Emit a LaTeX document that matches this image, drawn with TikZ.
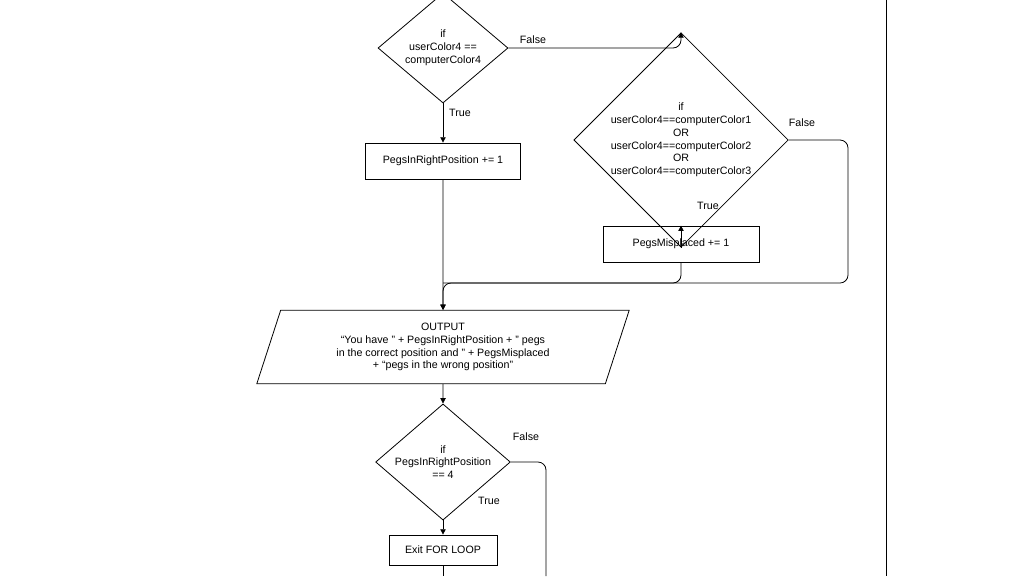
\documentclass[tikz,border=0pt]{standalone}
\usepackage{fontspec}
\setmainfont{Liberation Sans}
\usetikzlibrary{shapes.geometric,arrows.meta}
\tikzset{every node/.style={font=\fontsize{8}{9.6}\selectfont,align=center,inner sep=0pt}}
\tikzset{dec/.style={diamond,draw,aspect=1}}
\tikzset{proc/.style={rectangle,draw}}
\tikzset{lab/.style={}}
\tikzset{flow/.style={-{Triangle[length=4pt,width=4pt]},rounded corners=6pt}}

\begin{document}
\begin{tikzpicture}[x=0.75pt,y=-0.75pt,line width=0.6pt]
      \useasboundingbox (0,0) rectangle (1024,576);
      \node[dec,minimum width=97.5pt,minimum height=82.5pt,aspect=1.18] (D1) at (443,48) {if\\userColor4 ==\\computerColor4};
      \node[dec,minimum width=97.5pt,minimum height=97.5pt] (D2) at (681,140) {if\\userColor4==computerColor1\\OR\\userColor4==computerColor2\\OR\\userColor4==computerColor3};
      \node[proc,minimum width=116pt,minimum height=27pt] (P1) at (443,161) {PegsInRightPosition += 1};
      \node[proc,minimum width=117pt,minimum height=27pt] (P2) at (681,244) {PegsMisplaced += 1};
      \node[trapezium,trapezium left angle=72,trapezium right angle=108,draw,minimum width=188pt,minimum height=55pt] (O) at (443,347) {OUTPUT\\``You have '' + PegsInRightPosition + '' pegs\\in the correct position and '' + PegsMisplaced\\+ ``pegs in the wrong position''};
      \node[dec,minimum width=87pt,minimum height=75pt,aspect=1.16] (D3) at (443,462) {if\\PegsInRightPosition\\== 4};
      \node[proc,minimum width=81pt,minimum height=22.5pt] (E) at (443,550) {Exit FOR LOOP};
      \coordinate (j) at (443,283);
      \coordinate (f2) at (848,140);
      \coordinate (e3) at (546,576);
      \coordinate (ee) at (443,576);
      \node[lab] (t1) at (533,40) {False};
      \node[lab] (t2) at (460,113) {True};
      \node[lab] (t3) at (802,123) {False};
      \node[lab] (t4) at (708,206) {True};
      \node[lab] (t5) at (526,437) {False};
      \node[lab] (t6) at (489,501) {True};
      \draw[flow] (D1.east) -| (D2.north);
      \draw[flow] (D1.south) -- (P1.north);
      \draw[flow] (D2.south) -- (P2.north);
      \draw[flow] (P1.south) -- (O.north);
      \draw[rounded corners=6pt] (P2.south) |- (j);
      \draw[flow] (D2.east) -- (f2) |- (j) -- (O.north);
      \draw[flow] (O.south) -- (D3.north);
      \draw[flow] (D3.south) -- (E.north);
      \draw[rounded corners=6pt] (D3.east) -| (e3);
      \draw (E.south) -- (ee);
      \draw (886,0) -- (886,576);
    \end{tikzpicture}
\end{document}
